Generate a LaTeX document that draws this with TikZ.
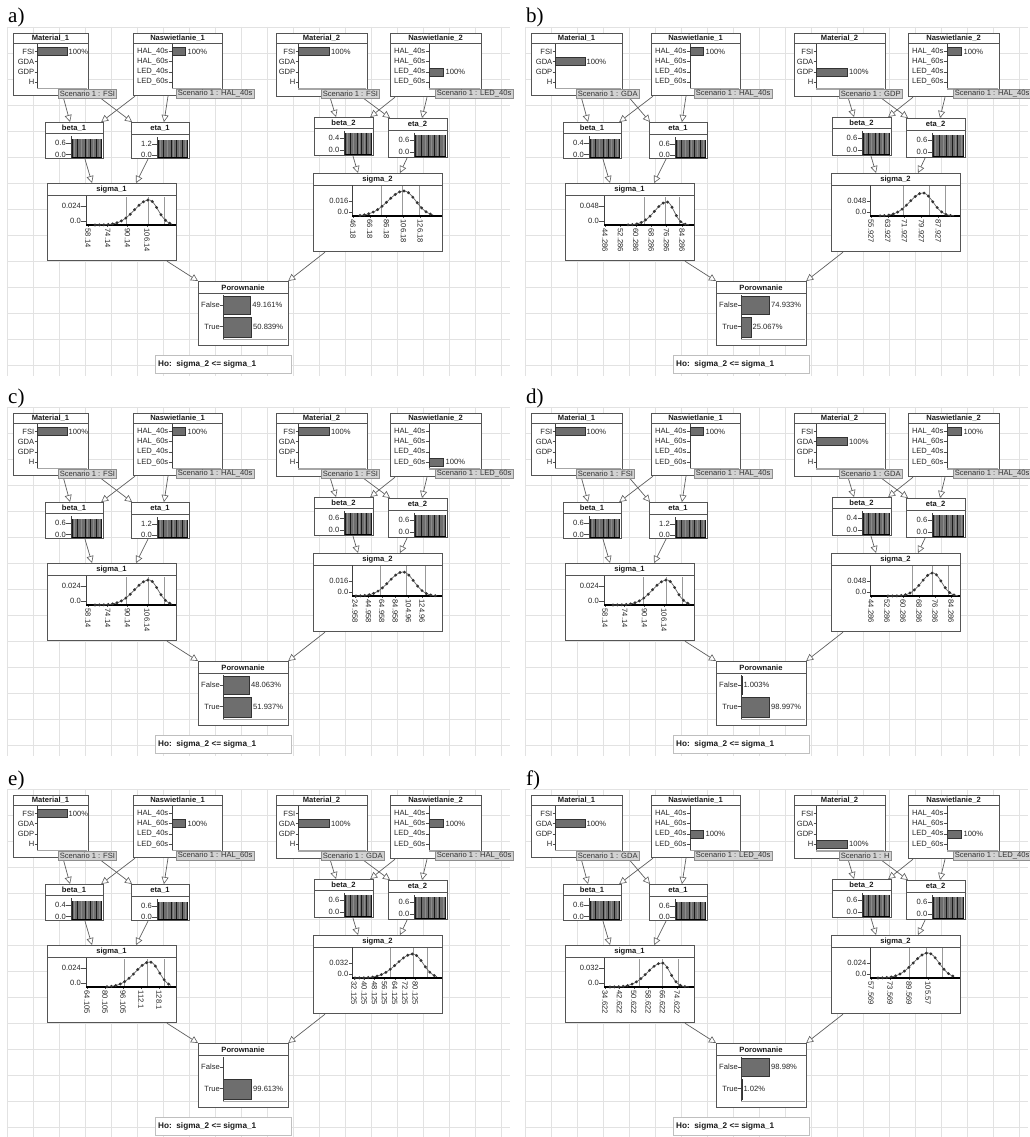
\documentclass[tikz,border=0pt]{standalone}
\usepackage{fontspec}
\setmainfont{Liberation Sans}
\newfontfamily\serifl{Liberation Serif}
\usetikzlibrary{arrows.meta}
\definecolor{boxc}{HTML}{555555}
\definecolor{gridc}{HTML}{E2E2E2}
\definecolor{barc}{HTML}{6E6E6E}
\definecolor{scenf}{HTML}{D2D2D2}
\definecolor{scenb}{HTML}{8E8E8E}
\definecolor{connc}{HTML}{5E5E5E}
\tikzset{
 box/.style={draw=boxc, line width=1.2pt, fill=white, inner sep=0pt, anchor=north west},
 sepline/.style={draw=boxc, line width=0.7pt},
 ttl/.style={font=\bfseries\fontsize{7.6}{8}\selectfont, inner sep=0pt, text=black!90},
 txt/.style={font=\fontsize{7.6}{8}\selectfont, inner sep=0pt, text=black!85},
 tck/.style={draw=black!70, line width=0.5pt},
 axl/.style={draw=black!75, line width=0.6pt},
 selbar/.style={fill=barc, draw=black!80, line width=0.5pt},
 strip/.style={draw=black!35, line width=1.3pt},
 scen/.style={fill=scenf, draw=scenb, line width=0.6pt, inner xsep=1.5pt, inner ysep=0.5pt, font=\fontsize{7.6}{8}\selectfont, text=black!80, anchor=west, minimum height=9pt},
 conn/.style={draw=connc, line width=0.7pt, -{Triangle[fill=white, length=7pt, width=7pt, line width=0.6pt]}},
 gridl/.style={draw=gridc, line width=0.5pt},
 mline/.style={draw=black!40, line width=0.6pt},
 plabel/.style={font=\serifl\fontsize{21}{21}\selectfont, anchor=base west, inner sep=0pt},
 hob/.style={draw=black!25, fill=white, line width=0.6pt, minimum width=136pt, minimum height=18pt, anchor=north west, inner sep=0pt},
 hotxt/.style={font=\bfseries\fontsize{8.2}{9}\selectfont, anchor=west, inner sep=0pt, text=black!90},
}
\newcommand\bx[7]{%
 \node[box, minimum width=#4pt, minimum height=#5pt] (#1) at (#2,#3) {};
 \draw[sepline] (#2,#3+#7) -- (#2+#4,#3+#7);
 \node[ttl] at (#2+#4/2,#3+#7/2+0.5) {#6};
}
\newcommand\minibar[4]{%
 \fill[barc] (#1,#2) rectangle (#3,#4);
 \foreach \fr in {0.03,0.2,0.45,0.62,0.8,0.97}{\draw[black!90,line width=0.6pt] ({#1+\fr*(#3-#1)},#2) -- ({#1+\fr*(#3-#1)},#4);}
 \foreach \fr in {0.1,0.33,0.53,0.72,0.9}{\draw[black!45,line width=0.4pt] ({#1+\fr*(#3-#1)},#2) -- ({#1+\fr*(#3-#1)},#4);}
 \draw[black,line width=0.9pt] (#1,#4) -- (#3,#4);
}
\newcommand\common[3]{%
 \foreach \i in {0,...,19} \draw[gridl] (7+26*\i,27) -- (7+26*\i,376);
 \foreach \j in {0,...,13} \draw[gridl] (7,27+26*\j) -- (510,27+26*\j);
 \node[plabel] (#1-lbl) at (8,23) {#1)};
 \bx{#1-m1}{13}{33}{#2}{62}{Material\_1}{10}
 \bx{#1-n1}{133}{33}{89}{62}{Naswietlanie\_1}{10}
 \bx{#1-m2}{276}{33}{91}{63}{Material\_2}{10}
 \bx{#1-n2}{390}{33}{91}{63}{Naswietlanie\_2}{10}
 \bx{#1-b1}{45}{122}{58}{36}{beta\_1}{11}
 \bx{#1-e1}{131}{122}{58}{36}{eta\_1}{12}
 \bx{#1-b2}{314}{117}{59}{38}{beta\_2}{11}
 \bx{#1-e2}{388}{118}{59}{39}{eta\_2}{12}
 \bx{#1-s1}{47}{183}{129}{77}{sigma\_1}{12}
 \bx{#1-s2}{313}{173}{129}{78}{sigma\_2}{12}
 \bx{#1-po}{198}{281}{90}{64}{Porownanie}{12}
 \node[hob] (#1-ho) at (155,355) {};
 \node[hotxt] at (158,364.5) {Ho:\ \ sigma\_2 <= sigma\_1};
 \foreach \lab [count=\i from 0] in {FSI,GDA,GDP,H}{%
   \node[txt,anchor=east] at (34.5,51.5+10.2*\i) {\lab}; \draw[tck] (34.5,51.5+10.2*\i) -- (37,51.5+10.2*\i);
   \node[txt,anchor=east] at (295.5,51.5+10.2*\i) {\lab}; \draw[tck] (295.5,51.5+10.2*\i) -- (298,51.5+10.2*\i);}
 \foreach \lab [count=\i from 0] in {HAL\_40s,HAL\_60s,LED\_40s,LED\_60s}{%
   \node[txt,anchor=east] at (168.5,51.5+10.2*\i) {\lab}; \draw[tck] (168.5,51.5+10.2*\i) -- (172,51.5+10.2*\i);
   \node[txt,anchor=east] at (425.5,51.5+10.2*\i) {\lab}; \draw[tck] (425.5,51.5+10.2*\i) -- (429,51.5+10.2*\i);}
 \draw[axl] (37,44) -- (37,88.5); \draw[axl] (172,44) -- (172,88.5);
 \draw[axl] (298,44) -- (298,89); \draw[axl] (429,44) -- (429,89);
 \draw[strip] (37,88.5) -- (13+#2-0.6,88.5); \draw[strip] (172,88.5) -- (221.4,88.5);
 \draw[strip] (298,89) -- (366.4,89); \draw[strip] (429,89) -- (480.4,89);
 \draw[axl] (71,136) -- (71,157.5); \minibar{71.5}{139}{102}{157}
 \draw[axl] (157,137) -- (157,157.5); \minibar{157.5}{140}{188}{157}
 \draw[axl] (344,131) -- (344,154.5); \minibar{344.5}{133}{372}{154}
 \draw[axl] (414,133) -- (414,156.5); \minibar{414.5}{135}{446}{156}
 \draw[conn] ([xshift=50pt]#1-m1.south west) -- ([xshift=25pt]#1-b1.north west);
 \draw[conn] ([xshift=#3pt]#1-m1.south west) -- ([xshift=1pt]#1-e1.north west);
 \draw[conn] ([xshift=2pt]#1-n1.south west) -- ([xshift=-3pt]#1-b1.north east);
 \draw[conn] ([xshift=35pt]#1-n1.south west) -- ([xshift=33pt]#1-e1.north west);
 \draw[conn] ([xshift=40pt]#1-b1.south west) -- ([xshift=45pt]#1-s1.north west);
 \draw[conn] ([xshift=17pt]#1-e1.south west) -- ([xshift=89pt]#1-s1.north west);
 \draw[conn] ([xshift=54pt]#1-m2.south west) -- ([xshift=22pt]#1-b2.north west);
 \draw[conn] ([xshift=86pt]#1-m2.south west) -- ([xshift=2pt]#1-e2.north west);
 \draw[conn] ([xshift=5pt]#1-n2.south west) -- ([xshift=-4pt]#1-b2.north east);
 \draw[conn] ([xshift=37pt]#1-n2.south west) -- ([xshift=34pt]#1-e2.north west);
 \draw[conn] ([xshift=39pt]#1-b2.south west) -- ([xshift=45pt]#1-s2.north west);
 \draw[conn] ([xshift=19pt]#1-e2.south west) -- ([xshift=87pt]#1-s2.north west);
 \draw[conn] ([xshift=120pt]#1-s1.south west) -- (#1-po.north west);
 \draw[conn] ([xshift=12pt]#1-s2.south west) -- ([xshift=-1pt]#1-po.north east);
}
\newcommand\selrows[4]{%
 \draw[selbar] (37.5,47.5+10.2*#1) rectangle ++(30,8); \node[txt,anchor=west] at (68.5,51.5+10.2*#1) {100\%};
 \draw[selbar] (172.5,47.5+10.2*#2) rectangle ++(13,8); \node[txt,anchor=west] at (187.5,51.5+10.2*#2) {100\%};
 \draw[selbar] (298.5,47.5+10.2*#3) rectangle ++(31,8); \node[txt,anchor=west] at (331,51.5+10.2*#3) {100\%};
 \draw[selbar] (429.5,47.5+10.2*#4) rectangle ++(14,8); \node[txt,anchor=west] at (445.5,51.5+10.2*#4) {100\%};
}
\newcommand\vals[4]{%
 \node[txt,anchor=east] at (66,143) {#1}; \draw[tck] (66,143) -- (71,143);
 \node[txt,anchor=east] at (66,154.5) {0.0}; \draw[tck] (66,154.5) -- (71,154.5);
 \node[txt,anchor=east] at (152,144) {#2}; \draw[tck] (152,144) -- (157,144);
 \node[txt,anchor=east] at (152,155) {0.0}; \draw[tck] (152,155) -- (157,155);
 \node[txt,anchor=east] at (339.5,138) {#3}; \draw[tck] (339.5,138) -- (344,138);
 \node[txt,anchor=east] at (339.5,150) {0.0}; \draw[tck] (339.5,150) -- (344,150);
 \node[txt,anchor=east] at (409.5,140) {#4}; \draw[tck] (409.5,140) -- (414,140);
 \node[txt,anchor=east] at (409.5,152) {0.0}; \draw[tck] (409.5,152) -- (414,152);
}
\newcommand\sigA[5]{%
 \foreach \ml in {#5} \draw[mline] (\ml,197) -- (\ml,225);
 \draw[axl] (86,196) -- (86,225);
 \node[txt,anchor=east] at (81,206) {#1}; \draw[tck] (81,206) -- (86,206);
 \node[txt,anchor=east] at (81,221) {0.0}; \draw[tck] (81,221) -- (86,221);
 \foreach \lab [count=\i from 0] in {#2}{\node[txt,rotate=-90,anchor=west] at (#3+#4*\i,228.5) {\lab}; \draw[tck] (#3+#4*\i,225) -- (#3+#4*\i,227);}
 \draw[black,line width=1.1pt] (86,225) -- (175.5,225);
}
\newcommand\sigB[5]{%
 \foreach \ml in {#5} \draw[mline] (\ml,186) -- (\ml,216);
 \draw[axl] (352,185) -- (352,216);
 \node[txt,anchor=east] at (348.5,201) {#1}; \draw[tck] (348.5,201) -- (352,201);
 \node[txt,anchor=east] at (348.5,212) {0.0}; \draw[tck] (348.5,212) -- (352,212);
 \foreach \lab [count=\i from 0] in {#2}{\node[txt,rotate=-90,anchor=west] at (#3+#4*\i,219.5) {\lab}; \draw[tck] (#3+#4*\i,216) -- (#3+#4*\i,218);}
 \draw[black,line width=1.1pt] (352,216) -- (441.5,216);
}
\newcommand\crv[7]{%
 \draw[black!60,line width=0.7pt,domain=#6:#2,samples=25] plot (\x,{#1-#3*exp(-0.5*((\x-#2)/#4)*((\x-#2)/#4))});
 \draw[black!60,line width=0.7pt,domain=#2:#7,samples=20] plot (\x,{#1-#3*exp(-0.5*((\x-#2)/#5)*((\x-#2)/#5))});
 \pgfmathtruncatemacro\nk{(#7-#6)/4.4}
 \foreach \k in {0,...,\nk}{%
   \pgfmathsetmacro\xx{#6+4.4*\k}
   \pgfmathsetmacro\ww{\xx<#2 ? #4 : #5}
   \pgfmathsetmacro\yy{#1-#3*exp(-0.5*((\xx-#2)/\ww)*((\xx-#2)/\ww))}
   \fill[black!80] (\xx,\yy) circle (1.6pt);
 }
}
\newcommand\poro[4]{%
 \node[txt,anchor=east] at (220,305) {False}; \draw[tck] (220,305) -- (223,305);
 \node[txt,anchor=east] at (220,326.5) {True}; \draw[tck] (220,326.5) -- (223,326.5);
 \draw[selbar] (223.5,296) rectangle (223.5+#2,314);
 \draw[selbar] (223.5,317) rectangle (223.5+#4,337.5);
 \draw[axl] (223,295) -- (223,339);
 \node[txt,anchor=west] at (225+#2,305) {#1};
 \node[txt,anchor=west] at (225+#4,326.5) {#3};
 \draw[strip] (223,339.5) -- (287.4,339.5);
}
\newcommand\scen[5]{%
 \node[scen] (#1-sc1) at (58,93.5) {Scenario 1 : #2};
 \node[scen] (#1-sc2) at (176,93.5) {Scenario 1 : #3};
 \node[scen] (#1-sc3) at (321,93.5) {Scenario 1 : #4};
 \node[scen] (#1-sc4) at (435,93.5) {Scenario 1 : #5};
}
\begin{document}
\begin{tikzpicture}[x=1pt,y=-1pt]
\useasboundingbox (0,0) rectangle (1029,1137);
\fill[white] (0,0) rectangle (1029,1137);
% a
\begin{scope}[shift={(0,0)}]
\common{a}{75}{85}
\selrows{0}{0}{0}{2}
\vals{0.6}{1.2}{0.4}{0.6}
\sigA{0.024}{58.14,74.14,90.14,106.14}{88}{19.7}{126,148,164}
\crv{225}{149}{25}{14.5}{9}{95}{172}
\sigB{0.016}{46.18,66.18,86.18,106.18,126.18}{353}{16.8}{381,402,419}
\crv{216}{404}{25}{16}{11.7}{360}{433}
\poro{49.161\%}{27.1}{50.839\%}{28}
\scen{a}{FSI}{HAL\_40s}{FSI}{LED\_40s}
\end{scope}
% b
\begin{scope}[shift={(518,0)}]
\common{b}{91}{97}
\selrows{1}{0}{2}{0}
\vals{0.4}{0.6}{0.6}{0.6}
\sigA{0.048}{44.286,52.286,60.286,68.286,76.286,84.286}{87}{15.4}{126,147,161}
\crv{225}{149}{23}{12.3}{7}{110}{171}
\sigB{0.048}{55.927,63.927,71.927,79.927,87.927}{353}{16.8}{385,411,427}
\crv{216}{405}{23}{13.5}{10}{362}{436}
\poro{74.933\%}{28}{25.067\%}{9.4}
\scen{b}{GDA}{HAL\_40s}{GDP}{HAL\_40s}
\end{scope}
% c
\begin{scope}[shift={(0,380)}]
\common{c}{75}{85}
\selrows{0}{0}{0}{3}
\vals{0.6}{1.2}{0.6}{0.6}
\sigA{0.024}{58.14,74.14,90.14,106.14}{88}{19.7}{126,148,164}
\crv{225}{149}{25}{14.5}{9}{95}{172}
\sigB{0.016}{24.958,44.958,64.958,84.958,104.96,124.96}{355}{13.4}{380,406,425}
\crv{216}{403}{24}{14}{11}{356}{437}
\poro{48.063\%}{25.9}{51.937\%}{28}
\scen{c}{FSI}{HAL\_40s}{FSI}{LED\_60s}
\end{scope}
% d
\begin{scope}[shift={(518,380)}]
\common{d}{91}{97}
\selrows{0}{0}{1}{0}
\vals{0.6}{1.2}{0.4}{0.6}
\sigA{0.024}{58.14,74.14,90.14,106.14}{87}{19.7}{125,148,164}
\crv{225}{149}{25}{14.5}{9}{95}{172}
\sigB{0.048}{44.286,52.286,60.286,68.286,76.286,84.286}{353}{16}{394,414,430}
\crv{216}{415}{23}{11.4}{8.5}{370}{440}
\poro{1.003\%}{0.3}{98.997\%}{28}
\scen{d}{FSI}{HAL\_40s}{GDA}{HAL\_40s}
\end{scope}
% e
\begin{scope}[shift={(0,762)}]
\common{e}{75}{85}
\selrows{0}{1}{1}{1}
\vals{0.4}{0.6}{0.6}{0.6}
\sigA{0.024}{64.105,80.105,96.105,112.1,128.1}{87}{18}{124,147,164}
\crv{225}{150}{25}{14.5}{9}{107}{171}
\sigB{0.032}{32.125,40.125,48.125,56.125,64.125,72.125,80.125}{354}{10.2}{390,413,427}
\crv{216}{413}{24}{16}{10}{355}{437}
\poro{}{0}{99.613\%}{28}
\scen{e}{FSI}{HAL\_60s}{GDA}{HAL\_60s}
\end{scope}
% f
\begin{scope}[shift={(518,762)}]
\common{f}{91}{97}
\selrows{1}{2}{3}{2}
\vals{0.6}{0.6}{0.6}{0.6}
\sigA{0.032}{34.622,42.622,50.622,58.622,66.622,74.622}{87}{14.4}{121,144,160}
\crv{225}{144}{24}{14.6}{8}{92}{171}
\sigB{0.024}{57.569,73.569,89.569,105.57}{353}{19}{391,408,424}
\crv{216}{410}{25}{14.7}{11}{360}{436}
\poro{98.98\%}{28}{1.02\%}{0.3}
\scen{f}{GDA}{LED\_40s}{H}{LED\_40s}
\end{scope}
\end{tikzpicture}
\end{document}
